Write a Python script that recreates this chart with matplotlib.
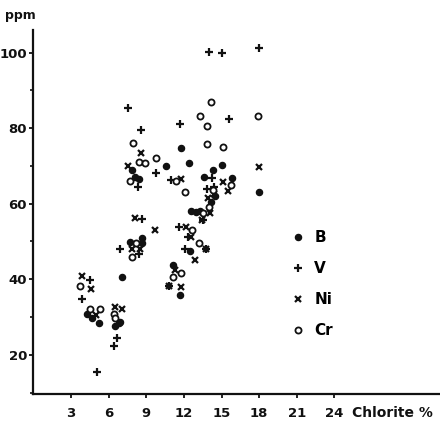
import matplotlib.pyplot as plt
from matplotlib.ticker import MultipleLocator

# Chlorite % vs trace element content (ppm)
b_chlorite = [4.3, 4.65, 5.2, 6.5, 6.8, 6.9, 7.03, 7.69, 8.7, 8.67, 7.83, 8.09, 8.43,
              10.61, 11.8, 12.41, 13.63, 14.3, 15.01, 15.83, 17.98, 14.19, 12.55,
              13.0, 13.26, 12.47, 11.14, 11.67, 14.5]
b_ppm = [30.7, 29.6, 28.3, 27.6, 28.3, 28.7, 40.6, 49.9, 50.8, 49.5, 68.9, 67.0, 66.4,
         70.0, 74.7, 70.8, 67.0, 69.0, 70.1, 66.7, 63.0, 60.5, 58.1,
         57.8, 58.0, 47.5, 43.7, 35.7, 62.0]

v_chlorite = [5.04, 3.9, 4.51, 6.63, 6.45, 6.9, 8.7, 8.43, 7.56, 8.59, 9.76, 8.35,
              11.67, 11.0, 11.59, 12.33, 12.07, 13.74, 10.82, 13.98, 15.07, 17.98,
              15.57, 14.24, 13.87, 14.4, 13.53]
v_ppm = [15.5, 34.7, 39.7, 24.5, 22.4, 48.1, 55.9, 46.6, 85.4, 79.4, 68.0, 64.3,
         81.0, 66.2, 53.7, 51.1, 47.9, 48.0, 38.3, 100.1, 100.0, 101.2,
         82.4, 66.7, 63.8, 64.3, 55.6]

ni_chlorite = [3.85, 4.56, 4.96, 6.5, 7.03, 8.09, 7.83, 8.49, 9.68, 8.62, 7.56,
               11.8, 12.2, 12.6, 13.77, 12.86, 11.3, 10.82, 11.75, 13.93, 14.11,
               13.45, 15.12, 15.51, 17.96, 14.4]
ni_ppm = [40.8, 37.4, 30.5, 32.7, 32.1, 56.3, 48.1, 48.0, 53.0, 73.4, 70.0,
          66.6, 53.7, 51.2, 48.1, 45.0, 42.5, 38.3, 37.9, 61.6, 57.4,
          55.6, 65.6, 63.4, 69.6, 62.5]

cr_chlorite = [3.72, 4.51, 5.31, 6.45, 6.5, 8.22, 7.83, 7.98, 8.43, 8.91, 9.74, 7.69,
               11.4, 12.09, 13.26, 13.84, 13.84, 14.14, 15.12, 17.93, 15.73, 13.98,
               13.53, 12.65, 13.18, 11.14, 11.75, 14.3]
cr_ppm = [38.3, 32.1, 32.1, 30.9, 29.7, 49.6, 45.9, 76.0, 70.9, 70.8, 72.0, 66.0,
          66.0, 63.0, 83.3, 80.5, 75.7, 86.9, 74.9, 83.3, 64.8, 59.2,
          57.4, 53.0, 49.7, 40.5, 41.6, 63.5]

x_ticks = [3, 6, 9, 12, 15, 18, 21, 24]
y_ticks = [20, 40, 60, 80, 100]

plt.rcParams['font.family'] = 'DejaVu Sans'

fig = plt.figure(figsize=(4.4, 4.28), dpi=100)
ax = fig.add_axes([0.0757, 0.0794, 0.924, 0.850])

ink = '#111111'
ms = 4.4
h_b, = ax.plot(b_chlorite, b_ppm, 'o', ms=ms, color=ink, mec=ink, linestyle='none', label='B')
h_v, = ax.plot(v_chlorite, v_ppm, '+', ms=ms + 0.8, mew=1.6, color=ink, linestyle='none', label='V')
h_ni, = ax.plot(ni_chlorite, ni_ppm, 'x', ms=ms - 0.6, mew=1.6, color=ink, linestyle='none', label='Ni')
h_cr, = ax.plot(cr_chlorite, cr_ppm, 'o', ms=ms, mfc='white', mec=ink, mew=1.3, linestyle='none', label='Cr')

ax.set_xlim(0, 32.4)
ax.set_ylim(9.6, 105.9)
ax.set_xticks(x_ticks)
ax.set_xticklabels([str(t) for t in x_ticks])
ax.set_yticks(y_ticks)
ax.yaxis.set_minor_locator(MultipleLocator(10))
ax.tick_params(axis='x', which='major', direction='out', length=3, width=1.3,
               labelsize=9.5, colors=ink, pad=6)
ax.tick_params(axis='y', which='major', direction='out', length=3, width=1.3,
               labelsize=9.5, colors=ink, pad=1.5)
ax.tick_params(axis='y', which='minor', direction='out', length=2, width=1.2, colors=ink)
for lab in ax.get_xticklabels() + ax.get_yticklabels():
    lab.set_fontweight('bold')

for side in ['top', 'right']:
    ax.spines[side].set_visible(False)
for side in ['left', 'bottom']:
    ax.spines[side].set_linewidth(1.6)
    ax.spines[side].set_color(ink)

fig.text(0.012, 0.978, 'ppm', fontsize=9, fontweight='bold', color=ink, va='top')
fig.text(0.80, 0.036, 'Chlorite %', fontsize=10, fontweight='bold', color=ink, va='center')

ax.legend(handles=[h_b, h_v, h_ni, h_cr], loc='upper left', bbox_to_anchor=(0.605, 0.488),
          frameon=False, labelspacing=1.05, handlelength=0.6,
          handletextpad=0.8, prop={'weight': 'bold', 'size': 11})

fig.savefig('out.png', dpi=100, facecolor='white')
